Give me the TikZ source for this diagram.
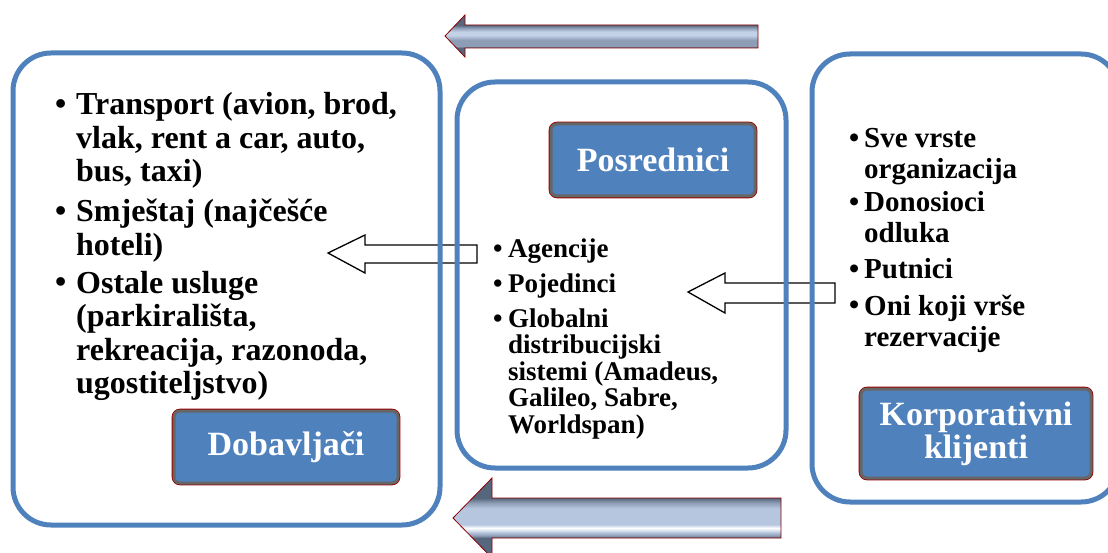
\documentclass[tikz,border=0pt]{standalone}
\usepackage{fontspec}
\setmainfont{Liberation Serif}
\usepackage{tikz}
\usetikzlibrary{positioning}

\definecolor{boxblue}{HTML}{4F81BD}
\definecolor{arrowdark}{HTML}{56667C}
\definecolor{arrowmid}{HTML}{8D9DB6}
\definecolor{arrowlight}{HTML}{C4D2E8}
\definecolor{arrowblue}{HTML}{B6C6DF}

% shadings: only 25bp..75bp is mapped onto the arrow
\pgfdeclareverticalshading{toparrow}{100bp}{color(0bp)=(arrowdark); color(35.7bp)=(arrowdark); color(38bp)=(arrowmid); color(45bp)=(arrowmid); color(51bp)=(arrowlight); color(55bp)=(arrowlight); color(59.5bp)=(arrowmid); color(63bp)=(arrowdark); color(100bp)=(arrowdark)}
\pgfdeclareverticalshading{botarrow}{100bp}{color(0bp)=(arrowdark); color(37.5bp)=(arrowdark); color(39bp)=(arrowmid); color(41bp)=(arrowblue); color(43.7bp)=(white); color(46bp)=(arrowblue); color(56bp)=(arrowblue); color(59.5bp)=(arrowmid); color(62.5bp)=(arrowdark); color(100bp)=(arrowdark)}

\tikzset{
  bigbox/.style={draw=boxblue, line width=5pt, rounded corners=38pt},
  labelbox/.style={draw=black!60, line width=3pt, fill=boxblue, rounded corners=6pt,
    preaction={draw=red!60!black, line width=4.6pt},
    text=white, align=center, inner sep=0pt,
    font=\fontsize{34}{33}\selectfont\bfseries},
  whitearrow/.style={draw=black, fill=white, line width=1.3pt, line join=miter},
  greyarrow/.style={draw=red!55!black, line width=.8pt},
  % base of a multi-line node is its last line
  itemL/.style={anchor=base west, align=left, inner sep=0pt, font=\fontsize{32}{33.5}\selectfont\bfseries},
  itemM/.style={anchor=base west, align=left, inner sep=0pt, font=\fontsize{27}{26.5}\selectfont\bfseries},
  itemR/.style={anchor=base west, align=left, inner sep=0pt, font=\fontsize{29}{31}\selectfont\bfseries},
}

\begin{document}
\begin{tikzpicture}[x=1pt, y=-1pt]
  \useasboundingbox (0,0) rectangle (1108,553);

  % grey arrows, top and bottom
  \shade[greyarrow, shading=toparrow] (758,25) -- (465,25) -- (465,15) -- (445,36)
    -- (465,57) -- (465,48) -- (758,48) -- cycle;
  \shade[greyarrow, shading=botarrow] (781,498) -- (492,498) -- (492,478) -- (453,518)
    -- (492,558) -- (492,538) -- (781,538) -- cycle;

  % white arrows between the boxes
  \draw [whitearrow] (477,245) -- (365,245) -- (365,235) -- (328,253) -- (365,273)
    -- (365,263) -- (477,263) -- cycle;
  \draw [whitearrow] (835,283) -- (725,283) -- (725,273) -- (688,292) -- (725,313)
    -- (725,303) -- (835,303) -- cycle;

  % the three groups
  \node [bigbox, minimum width=427pt, minimum height=472pt] (dobBox) at (226.5,289) {};
  \node [bigbox, minimum width=329pt, minimum height=386pt] (posBox) at (621.5,275) {};
  \node [bigbox, minimum width=307pt, minimum height=448pt] (korBox) at (965.5,278) {};

  \node [labelbox, minimum width=224pt, minimum height=72pt] (dob) at (286,447) {Dobavlja\v{c}i};
  \node [labelbox, minimum width=204pt, minimum height=72pt] (pos) at (653,160) {Posrednici};
  \node [labelbox, minimum width=230pt, minimum height=89pt] (kor) at (976,433.5) {Korporativni\\klijenti};

  % left list
  \node [itemL] (b1) at (55,115) {•};
  \node [itemL] (transport) at (76,182) {Transport (avion, brod,\\vlak, rent a car, auto,\\bus, taxi)};
  \node [itemL] (b2) at (55,222) {•};
  \node [itemL] (smjestaj) at (76,255.5) {Smještaj (najčešće\\hoteli)};
  \node [itemL] (b3) at (55,293) {•};
  \node [itemL] (ostale) at (76,393.5) {Ostale usluge\\(parkirališta,\\rekreacija, razonoda,\\ugostiteljstvo)};

  % middle list
  \node [itemM] (b4) at (493,258) {•};
  \node [itemM] (agencije) at (508,258) {Agencije};
  \node [itemM] (b5) at (493,293) {•};
  \node [itemM] (pojedinci) at (508,293) {Pojedinci};
  \node [itemM] (b6) at (493,327) {•};
  \node [itemM] (globalni) at (508,433) {Globalni\\distribucijski\\sistemi (Amadeus,\\Galileo, Sabre,\\Worldspan)};

  % right list
  \node [itemR] (b7) at (849,148) {•};
  \node [itemR] (sve) at (864,179) {Sve vrste\\organizacija};
  \node [itemR] (b8) at (849,212) {•};
  \node [itemR] (donosioci) at (864,243) {Donosioci\\odluka};
  \node [itemR] (b9) at (849,279) {•};
  \node [itemR] (putnici) at (864,279) {Putnici};
  \node [itemR] (b10) at (849,315) {•};
  \node [itemR] (oni) at (864,346) {Oni koji vrše\\rezervacije};
\end{tikzpicture}
\end{document}
